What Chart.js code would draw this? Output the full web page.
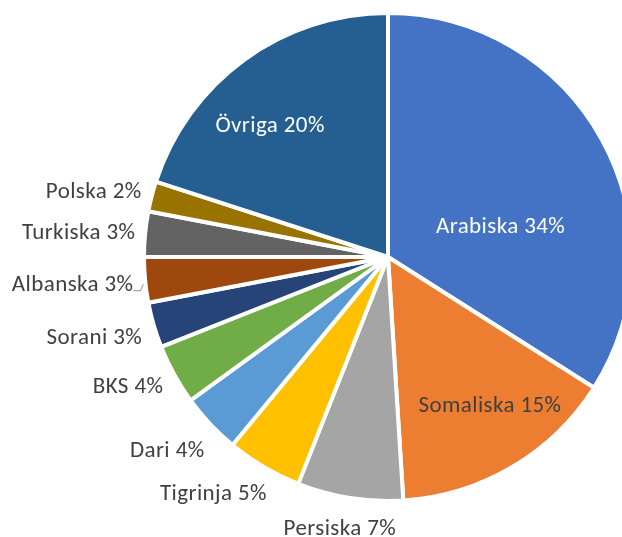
<!DOCTYPE html>
<html><head><meta charset="utf-8">
<script src="https://cdn.jsdelivr.net/npm/chart.js@4/dist/chart.umd.min.js"></script>
<style>
html,body{margin:0;padding:0;background:#fff;overflow:hidden;}
#wrap{position:relative;width:622px;height:537px;overflow:hidden;}
#c{position:absolute;left:0;top:0;}
</style></head><body>
<div id="wrap"><canvas id="c" width="776" height="537"></canvas></div>
<script>
const categories = ['Arabiska','Somaliska','Persiska','Tigrinja','Dari','BKS','Sorani','Albanska','Turkiska','Polska','Övriga'];
const shares = [34,15,7,5,4,4,3,3,3,2,20];
const colors = ['#4472C4','#ED7D31','#A5A5A5','#FFC000','#5B9BD5','#70AD47','#264478','#9E480E','#636363','#997300','#255E91'];

const insideIdx = [0,1,10];
const insideText = {0:'#ffffff',1:'#404040',10:'#ffffff'};
const leaderIdx = [7];
// small label placement adjustments (px) on top of the geometric placement
const labelNudge = [[-20,41],[25,17],[1,4],[-16,4],[-5.5,8],[-3,-1],[0,4],[2,1],[4,-1],[2,0],[-29,-10]];
const FONT_SIZE = 23;
const FONT = FONT_SIZE + 'px Carlito, Lato, sans-serif';

const labelPlugin = {
  id:'pieLabels',
  afterDatasetsDraw(chart){
    const ctx = chart.ctx;
    const meta = chart.getDatasetMeta(0);
    ctx.save();
    ctx.font = FONT;
    try { ctx.letterSpacing = '0.4px'; } catch(e) {}
    ctx.textBaseline = 'alphabetic';
    ctx.textAlign = 'center';
    const capH = 0.68*FONT_SIZE;
    meta.data.forEach((arc,i)=>{
      const p = arc.getProps(['x','y','startAngle','endAngle','outerRadius'],true);
      const mid = (p.startAngle+p.endAngle)/2;
      const dx = Math.cos(mid), dy = Math.sin(mid);
      const txt = categories[i]+' '+shares[i]+'%';
      const w = ctx.measureText(txt).width, h = 22;
      let cx, cy;
      if (insideIdx.includes(i)) {
        cx = p.x + dx*p.outerRadius*0.62;
        cy = p.y + dy*p.outerRadius*0.62;
        ctx.fillStyle = insideText[i];
      } else {
        const r = p.outerRadius + 14;
        cx = p.x + dx*r + dx*w/2;
        cy = p.y + dy*r + dy*h/2;
        ctx.fillStyle = '#404040';
      }
      cx += labelNudge[i][0];
      cy += labelNudge[i][1];
      const base = cy + capH/2;
      ctx.fillText(txt, cx, base);
      if (leaderIdx.includes(i)) {
        const xr = cx + w/2;
        ctx.save();
        ctx.strokeStyle = '#A6A6A6';
        ctx.lineWidth = 1.2;
        ctx.beginPath();
        ctx.moveTo(xr, base - 0.5);
        ctx.lineTo(xr + 7, base - 0.5);
        ctx.lineTo(xr + 10, base - 7);
        ctx.stroke();
        ctx.restore();
      }
    });
    ctx.restore();
  }
};

new Chart(document.getElementById('c'), {
  type:'pie',
  data:{labels:categories, datasets:[{data:shares, backgroundColor:colors, borderColor:'#ffffff', borderWidth:4, radius:244}]},
  options:{
    responsive:false, devicePixelRatio:1, animation:false,
    layout:{padding:{top:0,left:0,right:0,bottom:23}},
    plugins:{legend:{display:false}, tooltip:{enabled:false}}
  },
  plugins:[labelPlugin]
});
</script>
</body></html>
